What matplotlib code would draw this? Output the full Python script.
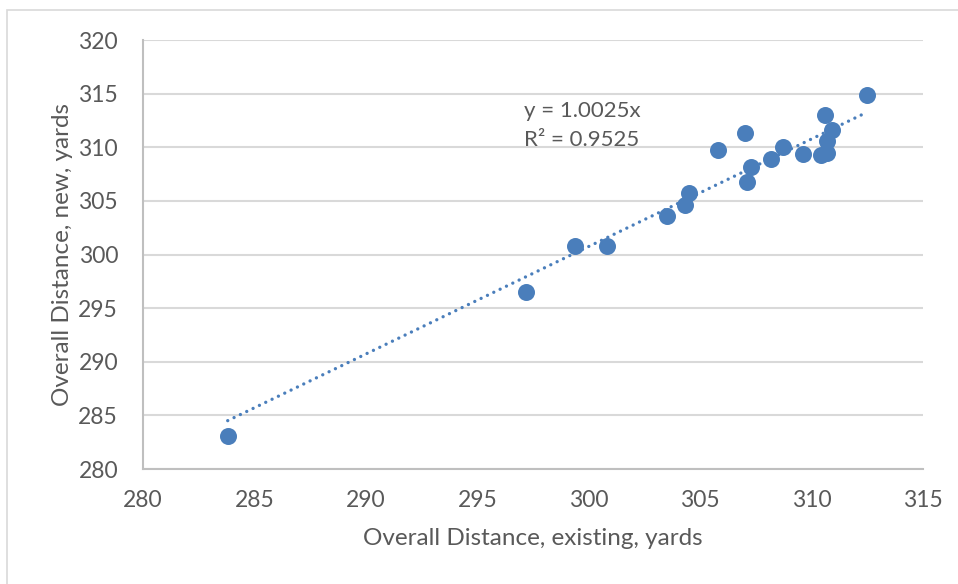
import matplotlib
matplotlib.use("Agg")
import matplotlib.pyplot as plt
import numpy as np
from matplotlib.patches import Rectangle

# values
existing_yards = [283.8, 297.2, 299.4, 300.8, 303.5, 304.3, 304.5, 305.8, 307.0, 307.1,
                  307.3, 308.2, 308.7, 309.6, 310.4, 310.7, 310.7, 310.9, 310.6, 312.5]
new_yards = [283.1, 296.5, 300.8, 300.8, 303.6, 304.6, 305.7, 309.7, 311.3, 306.8,
             308.2, 308.9, 310.0, 309.4, 309.3, 309.5, 310.6, 311.6, 313.0, 314.9]
trend_slope = 1.0025
r_squared = 0.9525
x_ticks = [280, 285, 290, 295, 300, 305, 310, 315]
y_ticks = [280, 285, 290, 295, 300, 305, 310, 315, 320]

BLUE = "#4A7EBB"
TEXT = "#595959"

plt.rcParams["font.family"] = ["Lato", "DejaVu Sans"]

fig = plt.figure(figsize=(9.58, 5.84), dpi=100)
ax = fig.add_axes([0.1493, 0.1969, 0.8142, 0.7346])

# chart border (only the top/left edges fall inside the screenshot)
fig.patches.append(Rectangle((7 / 958, -0.1), 1.2, 1 - 10 / 584 + 0.1, transform=fig.transFigure,
                             fill=False, edgecolor="#D9D9D9", linewidth=1.2))

ax.scatter(existing_yards, new_yards, s=150, color=BLUE, zorder=3, linewidths=0)

xs = np.array([min(existing_yards), max(existing_yards)])
ax.plot(xs, trend_slope * xs, color=BLUE, linewidth=2.4, linestyle=(0, (0.01, 2.1)),
        dash_capstyle="round", zorder=2)

ax.text(297.1, 313.4, f"y = {trend_slope}x", fontsize=16, color=TEXT, va="center")
ax.text(297.1, 310.7, f"R² = {r_squared}", fontsize=16, color=TEXT, va="center")

ax.set_xlim(280, 315)
ax.set_ylim(280, 320)
ax.set_xticks(x_ticks)
ax.set_yticks(y_ticks)
ax.tick_params(length=0, labelsize=16.5, labelcolor=TEXT)
ax.tick_params(axis="x", pad=15)
ax.tick_params(axis="y", pad=18)
ax.grid(axis="y", color="#D9D9D9", linewidth=1.5)
ax.set_axisbelow(True)
for side in ("top", "right"):
    ax.spines[side].set_visible(False)
for side in ("left", "bottom"):
    ax.spines[side].set_color("#BFBFBF")
    ax.spines[side].set_linewidth(1.5)

ax.set_xlabel("Overall Distance, existing, yards", fontsize=17.5, color=TEXT, labelpad=12)
ax.set_ylabel("Overall Distance, new, yards", fontsize=17.5, color=TEXT, labelpad=4)

fig.savefig("out.png", dpi=100)
